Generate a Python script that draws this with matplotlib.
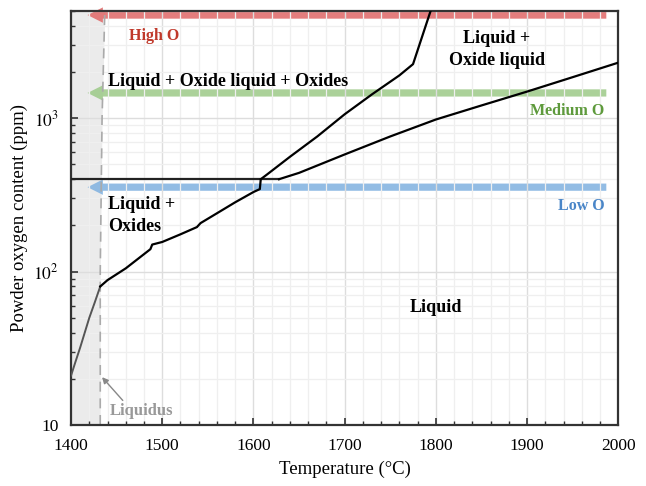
import matplotlib
matplotlib.use("Agg")
import matplotlib.pyplot as plt
import numpy as np
from matplotlib.ticker import MultipleLocator, LogLocator, FixedLocator, FixedFormatter, NullFormatter

plt.rcParams['font.family'] = ['Liberation Serif', 'DejaVu Serif']
plt.rcParams['mathtext.fontset'] = 'stix'

# phase boundary lines (temperature degC, oxygen ppm)
solid_T = [1400, 1405, 1410, 1415, 1420, 1426, 1432]
solid_O = [21, 26, 32, 40, 50, 63, 80]

oxides_T = [1432, 1440, 1460, 1487, 1489, 1500, 1520, 1538, 1542, 1560, 1580, 1600, 1607, 1608]
oxides_O = [80, 88, 105, 140, 150, 156, 175, 195, 207, 240, 283, 330, 345, 400]

flat_T = [1400, 1628]
flat_O = [400, 400]

upper_T = [1608, 1615, 1640, 1670, 1700, 1730, 1760, 1775, 1797]
upper_O = [400, 430, 560, 760, 1060, 1430, 1900, 2250, 5600]

lower_T = [1628, 1650, 1700, 1750, 1800, 1850, 1900, 1950, 2000]
lower_O = [400, 440, 580, 760, 980, 1210, 1490, 1850, 2300]

liquidus_T = [1432, 1432, 1434, 1437]
liquidus_O = [10, 100, 1000, 5000]

# oxygen levels of the powders
levels = ['High O', 'Medium O', 'Low O']
level_O = [4700, 1460, 355]
level_colors = ['#e06666', '#9cc987', '#7fb1e0']
level_text = ['#c0392b', '#5e9a3c', '#4a86c8']

fig = plt.figure(figsize=(6.46, 4.86), dpi=100)
ax = fig.add_axes([0.110, 0.1255, 0.847, 0.852])
ax.set_yscale('log')
ax.set_xlim(1400, 2000)
ax.set_ylim(10, 5000)

# shaded solid region left of liquidus
ax.fill_betweenx(liquidus_O, 1400, liquidus_T, color='#ebebeb', zorder=0.2, lw=0)
ax.plot(liquidus_T, liquidus_O, color='#aaaaaa', lw=1.2, ls=(0, (6, 4)), zorder=2)

# grid
ax.xaxis.set_major_locator(MultipleLocator(100))
ax.xaxis.set_minor_locator(MultipleLocator(20))
ax.yaxis.set_major_locator(FixedLocator([10, 100, 1000]))
ax.yaxis.set_major_formatter(FixedFormatter(['10', r'$10^2$', r'$10^3$']))
ax.yaxis.set_minor_locator(LogLocator(base=10, subs=np.arange(2, 10)))
ax.yaxis.set_minor_formatter(NullFormatter())
ax.grid(True, which='major', color='#dddddd', lw=1.0, zorder=0.6)
ax.grid(True, which='minor', color='#efefef', lw=0.9, zorder=0.6)
ax.set_axisbelow(True)

# powder oxygen arrows
for lv, yv, c in zip(levels, level_O, level_colors):
    ax.annotate('', xy=(1415, yv), xytext=(1990, yv),
                arrowprops=dict(arrowstyle='simple,head_length=0.85,head_width=0.85,tail_width=0.4',
                                color=c, alpha=0.85, lw=0, mutation_scale=13),
                zorder=0.4)

# boundaries
ax.plot(solid_T, solid_O, color='#555555', lw=1.4, zorder=3)
ax.plot(oxides_T, oxides_O, color='black', lw=1.6, zorder=3)
ax.plot(flat_T, flat_O, color='#222222', lw=1.6, zorder=3)
ax.plot(upper_T, upper_O, color='black', lw=1.6, zorder=3)
ax.plot(lower_T, lower_O, color='black', lw=1.6, zorder=3)

# labels
bold = dict(fontweight='bold', fontsize=13)
ax.text(1464, 3450, 'High O', color=level_text[0], ha='left', va='center', fontweight='bold', fontsize=11.5)
ax.text(1441, 1730, 'Liquid + Oxide liquid + Oxides', color='black', ha='left', va='center', **bold)
ax.text(1867, 2800, 'Liquid +\nOxide liquid', color='black', ha='center', va='center',
        linespacing=1.45, **bold)
ax.text(1985, 1120, 'Medium O', color=level_text[1], ha='right', va='center', fontweight='bold', fontsize=11.5)
ax.text(1985, 268, 'Low O', color=level_text[2], ha='right', va='center', fontweight='bold', fontsize=11.5)
ax.text(1441, 232, 'Liquid +\nOxides', color='black', ha='left', va='center', linespacing=1.45, **bold)
ax.text(1800, 58, 'Liquid', color='black', ha='center', va='center', **bold)
ax.annotate('Liquidus', xy=(1434, 20.5), xytext=(1442, 12.3), color='#999999',
            fontweight='bold', fontsize=12, ha='left', va='center',
            arrowprops=dict(arrowstyle='-|>', color='#888888', lw=1.0, mutation_scale=9,
                            shrinkA=0, shrinkB=0, relpos=(0.25, 1.0)))

# axes styling
for s in ax.spines.values():
    s.set_color('#333333')
    s.set_linewidth(1.6)
ax.tick_params(which='both', direction='in', top=False, right=False, labelsize=12.5, color='#333333')
ax.tick_params(which='major', length=5, width=1.2, pad=9)
ax.tick_params(which='minor', length=3, width=1.0)
ax.set_xlabel('Temperature (°C)', fontsize=13.5, labelpad=5)
ax.set_ylabel('Powder oxygen content (ppm)', fontsize=13.5, labelpad=4)

fig.savefig('out.png', dpi=100)
